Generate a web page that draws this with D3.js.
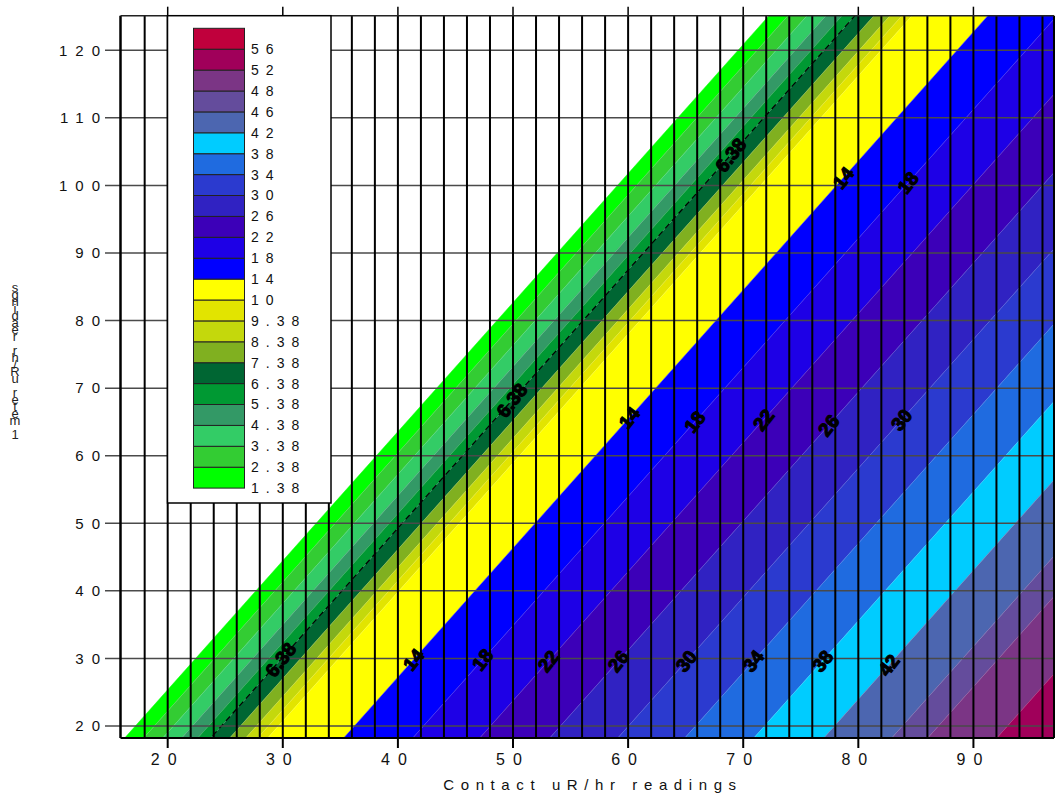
<!DOCTYPE html>
<html>
<head>
<meta charset="utf-8">
<script src="https://cdn.jsdelivr.net/npm/d3@7"></script>
<style>
body { margin: 0; background: #fff; }
text { font-family: "Liberation Sans", Arial, sans-serif; }
</style>
</head>
<body>
<svg id="chart" width="1057" height="795"></svg>
<script>
// contour levels = lower bound of each colour band (legend, bottom to top)
var levels = [1.38, 2.38, 3.38, 4.38, 5.38, 6.38, 7.38, 8.38, 9.38, 10,
              14, 18, 22, 26, 30, 34, 38, 42, 46, 48, 52, 56];
var levelNames = ["1.38", "2.38", "3.38", "4.38", "5.38", "6.38", "7.38", "8.38", "9.38", "10",
                  "14", "18", "22", "26", "30", "34", "38", "42", "46", "48", "52", "56"];
var bandColors = ["#00ff00", "#33cc33", "#33cc66", "#339966", "#009933", "#006633", "#80b020", "#c4d80c", "#e2e400", "#ffff00",
                  "#0000ff", "#1e00e6", "#3c00b8", "#3022c2", "#2b3acf", "#1f6be0", "#00ccff", "#4c66b0", "#644c9c", "#7b3585", "#a0005a", "#c0003c"];

// x where each contour crosses the bottom of the plot (y = 18.2)
var crossX = [16.26, 17.91, 19.57, 21.22, 22.61, 23.74, 25.39, 26.78, 27.82, 28.69,
              35.29, 41.29, 47.11, 53.19, 59.10, 64.92, 70.92, 77.00, 82.90, 86.03, 92.03, 97.93];
var contourSlope = 1.91;   // dy/dx along the (parallel) contour lines

// contour labels on the plot
var labelNames = ["6.38", "14", "18", "22", "26", "30", "34", "38", "42",
                  "6.38", "14", "18", "22", "26", "30",
                  "6.38", "14", "18"];
var labelY = [29.8, 29.8, 29.8, 29.6, 29.6, 29.6, 29.6, 29.6, 29.0,
              68.2, 65.6, 65.0, 65.3, 64.5, 65.3,
              104.5, 101.1, 100.4];

var xTicks = [20, 30, 40, 50, 60, 70, 80, 90];
var yTicks = [20, 30, 40, 50, 60, 70, 80, 90, 100, 110, 120];
var xGrid = d3.range(18, 97, 2);

var xTitle = "Contact uR/hr readings";
var yTitle = "1 meter uR/hr readings";

var svg = d3.select("#chart");
var L = 120.5, R = 1054, T = 15.7, B = 738;
var xDomain = [15.9, 97.0], yDomain = [18.22, 125.12];

var x = d3.scaleLinear().domain(xDomain).range([L, R]);
var y = d3.scaleLinear().domain(yDomain).range([B, T]);

svg.append("clipPath").attr("id", "plotclip")
    .append("rect").attr("x", L).attr("y", T).attr("width", R - L).attr("height", B - T);

var plot = svg.append("g").attr("clip-path", "url(#plotclip)");

var y0 = yDomain[0] - 3, y1 = yDomain[1] + 3;
function lineX(i, yv) {
    if (i >= levels.length) return 200;
    return crossX[i] + (yv - yDomain[0]) / contourSlope;
}
var poly = d3.line().x(function(d) { return x(d[0]); }).y(function(d) { return y(d[1]); });

//colour bands
plot.selectAll(".band")
    .data(levels)
    .enter().append("path")
    .attr("class", "band")
    .attr("fill", function(d, i) { return bandColors[i]; })
    .attr("stroke", function(d, i) { return bandColors[i]; })
    .attr("stroke-width", 0.5)
    .attr("d", function(d, i) {
        return poly([[lineX(i, y0), y0], [lineX(i, y1), y1],
                     [lineX(i + 1, y1), y1], [lineX(i + 1, y0), y0]]) + "Z";
    });

//thin light contour lines
plot.selectAll(".cline")
    .data(levels)
    .enter().append("path")
    .attr("class", "cline")
    .attr("fill", "none")
    .attr("stroke", "#fff")
    .attr("stroke-opacity", function(d, i) { return i == 0 ? 0 : 0.22; })
    .attr("stroke-width", 0.8)
    .attr("d", function(d, i) { return poly([[lineX(i, y0), y0], [lineX(i, y1), y1]]); });

//dashed 6.38 contour
var i638 = levels.indexOf(6.38);
plot.append("path")
    .attr("fill", "none")
    .attr("stroke", "#000")
    .attr("stroke-width", 1.2)
    .attr("stroke-dasharray", "6,4")
    .attr("d", poly([[lineX(i638, y0), y0], [lineX(i638, y1), y1]]));

//horizontal grid
svg.selectAll(".hgrid")
    .data(yTicks)
    .enter().append("line")
    .attr("x1", 105).attr("x2", R)
    .attr("y1", function(d) { return y(d); })
    .attr("y2", function(d) { return y(d); })
    .attr("stroke", "#4a4a4a")
    .attr("stroke-width", 1.5);

//vertical grid
svg.selectAll(".vgrid")
    .data(xGrid)
    .enter().append("line")
    .attr("x1", function(d) { return x(d); })
    .attr("x2", function(d) { return x(d); })
    .attr("y1", T).attr("y2", B)
    .attr("stroke", "#000")
    .attr("stroke-width", 2);

//top and bottom ticks
svg.selectAll(".xtick")
    .data(xTicks)
    .enter().append("line")
    .attr("x1", function(d) { return x(d); })
    .attr("x2", function(d) { return x(d); })
    .attr("y1", B).attr("y2", B + 10)
    .attr("stroke", "#000").attr("stroke-width", 2);
svg.selectAll(".ttick")
    .data(xTicks)
    .enter().append("line")
    .attr("x1", function(d) { return x(d); })
    .attr("x2", function(d) { return x(d); })
    .attr("y1", T - 9).attr("y2", T)
    .attr("stroke", "#000").attr("stroke-width", 1.5);

//frame
svg.append("line").attr("x1", L).attr("x2", L).attr("y1", T).attr("y2", B)
    .attr("stroke", "#000").attr("stroke-width", 2.5);
svg.append("line").attr("x1", R).attr("x2", R).attr("y1", T).attr("y2", B)
    .attr("stroke", "#000").attr("stroke-width", 2);
svg.append("line").attr("x1", L).attr("x2", R).attr("y1", B).attr("y2", B)
    .attr("stroke", "#000").attr("stroke-width", 2);
svg.append("line").attr("x1", L).attr("x2", R).attr("y1", T).attr("y2", T)
    .attr("stroke", "#222").attr("stroke-width", 1.5);

//contour labels
svg.selectAll(".clabel")
    .data(labelNames)
    .enter().append("text")
    .attr("class", "clabel")
    .attr("transform", function(d, i) {
        var li = levelNames.indexOf(d);
        return "translate(" + x(lineX(li, labelY[i])) + "," + y(labelY[i]) + ") rotate(-52)";
    })
    .attr("text-anchor", "middle")
    .attr("dy", "0.35em")
    .attr("font-size", 19)
    .attr("font-weight", "bold")
    .attr("fill", "#000")
    .attr("stroke", "#000")
    .attr("stroke-width", 1.1)
    .text(function(d) { return d; });

//axis labels
svg.selectAll(".ylab")
    .data(yTicks)
    .enter().append("text")
    .attr("x", 100)
    .attr("y", function(d) { return y(d); })
    .attr("dy", "0.35em")
    .attr("dx", 8)
    .attr("text-anchor", "end")
    .attr("font-size", 15)
    .attr("letter-spacing", 8)
    .attr("fill", "#111")
    .text(function(d) { return d; });

svg.selectAll(".xlab")
    .data(xTicks)
    .enter().append("text")
    .attr("x", function(d) { return x(d); })
    .attr("y", 765)
    .attr("text-anchor", "middle")
    .attr("font-size", 16)
    .attr("letter-spacing", 8)
    .attr("fill", "#111")
    .text(function(d) { return d; });

svg.append("text")
    .attr("x", 593).attr("y", 790)
    .attr("text-anchor", "middle")
    .attr("font-size", 15)
    .attr("letter-spacing", 6.6)
    .attr("fill", "#111")
    .text(xTitle);

//y title: one text, characters stacked upwards (as in the original rendering)
svg.append("text")
    .attr("font-size", 13)
    .attr("text-anchor", "middle")
    .attr("fill", "#222")
    .selectAll("tspan")
    .data(yTitle.split(""))
    .enter().append("tspan")
    .attr("x", 15)
    .attr("y", function(d, i) { return 439 - i * 7; })
    .text(function(d) { return d; });

//legend
var leg = svg.append("g");
leg.append("rect")
    .attr("x", 167.5).attr("y", T).attr("width", 163.5).attr("height", 503 - T)
    .attr("fill", "#fff").attr("stroke", "#000").attr("stroke-width", 1.5);
var boxH = 20.9, boxTop = 28.3;
var nLev = levels.length;
leg.selectAll(".sw")
    .data(levels)
    .enter().append("rect")
    .attr("x", 193.5)
    .attr("y", function(d, i) { return boxTop + (nLev - 1 - i) * boxH; })
    .attr("width", 51)
    .attr("height", boxH)
    .attr("fill", function(d, i) { return bandColors[i]; })
    .attr("stroke", "#222")
    .attr("stroke-width", 1);
leg.selectAll(".lt")
    .data(levelNames)
    .enter().append("text")
    .attr("x", 251)
    .attr("y", function(d, i) { return boxTop + (nLev - i) * boxH; })
    .attr("dy", "0.35em")
    .attr("font-size", 14)
    .attr("letter-spacing", 7)
    .attr("fill", "#111")
    .text(function(d) { return d; });
</script>
</body>
</html>
